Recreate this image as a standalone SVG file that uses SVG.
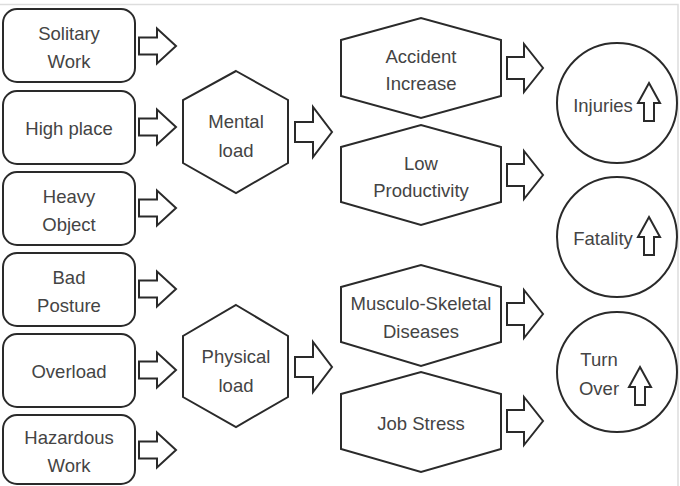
<svg xmlns="http://www.w3.org/2000/svg" xmlns:xlink="http://www.w3.org/1999/xlink" width="680" height="486" viewBox="0 0 680 486">
<style>
.sh{fill:#fff;stroke:#2a2a2a;stroke-width:2;stroke-linejoin:miter}
.ar{fill:#fff;stroke:#2a2a2a;stroke-width:2;stroke-linejoin:miter}
text{font-family:"Liberation Sans",Arial,sans-serif;font-size:18.5px;fill:#444;text-anchor:middle}
</style>
<defs>
<path id="sa" d="M0,-8.5 H18 V-17.5 L37,0 L18,17.5 V8.5 H0 Z"/>
<path id="ma" d="M0,-10 H18 V-25 L37,0 L18,25 V10 H0 Z"/>
<path id="ra" d="M0,-11 H17 V-24 L36,0 L17,24 V11 H0 Z"/>
<path id="ua" d="M0,0 L11,20 H5 V38 H-5 V20 H-11 Z"/>
</defs>
<rect x="0" y="0" width="680" height="486" fill="#fff"/>
<rect x="-2" y="4.5" width="680" height="490" fill="none" stroke="#ddd" stroke-width="1.5"/>

<g id="solitary"><rect class="sh" x="3" y="9" width="132" height="73" rx="14"/><text x="69" y="40">Solitary</text><text x="69" y="68">Work</text></g>
<g id="highplace"><rect class="sh" x="3" y="91" width="132" height="73" rx="14"/><text x="69" y="135">High place</text></g>
<g id="heavy"><rect class="sh" x="3" y="172" width="132" height="73" rx="14"/><text x="69" y="203">Heavy</text><text x="69" y="231">Object</text></g>
<g id="posture"><rect class="sh" x="3" y="253" width="132" height="73" rx="14"/><text x="69" y="284">Bad</text><text x="69" y="312">Posture</text></g>
<g id="overload"><rect class="sh" x="3" y="334" width="132" height="73" rx="14"/><text x="69" y="378">Overload</text></g>
<g id="hazardous"><rect class="sh" x="3" y="415" width="132" height="69" rx="14"/><text x="69" y="444">Hazardous</text><text x="69" y="472">Work</text></g>

<g id="mental"><polygon class="sh" points="236,71 288,100 288,163 236,193 183,163 183,100"/><text x="236" y="128">Mental</text><text x="236" y="157">load</text></g>
<g id="physical"><polygon class="sh" points="236,305 288,336 288,397 236,427 183,397 183,336"/><text x="236" y="363">Physical</text><text x="236" y="392">load</text></g>

<g id="accident"><polygon class="sh" points="341,40 421,18 501,40 501,96 421,118 341,96"/><text x="421" y="63">Accident</text><text x="421" y="90">Increase</text></g>
<g id="lowprod"><polygon class="sh" points="341,147 421,125 501,147 501,202 421,225 341,202"/><text x="421" y="170">Low</text><text x="421" y="197">Productivity</text></g>
<g id="musculo"><polygon class="sh" points="341,287 421,265 501,287 501,342 421,366 341,342"/><text x="421" y="310">Musculo-Skeletal</text><text x="421" y="338">Diseases</text></g>
<g id="jobstress"><polygon class="sh" points="341,394 421,372 501,394 501,449 421,472 341,449"/><text x="421" y="430">Job Stress</text></g>

<g id="injuries"><circle class="sh" cx="617" cy="103" r="60"/><text x="603" y="112">Injuries</text><use href="#ua" class="ar" x="649" y="83"/></g>
<g id="fatality"><circle class="sh" cx="617" cy="237" r="60"/><text x="603" y="245">Fatality</text><use href="#ua" class="ar" x="649" y="217"/></g>
<g id="turnover"><circle class="sh" cx="617" cy="372" r="60"/><text x="599" y="366">Turn</text><text x="599" y="395">Over</text><use href="#ua" class="ar" x="640" y="367"/></g>

<g id="connectors">
<use href="#sa" class="ar" x="139" y="46"/>
<use href="#sa" class="ar" x="139" y="127"/>
<use href="#sa" class="ar" x="139" y="208"/>
<use href="#sa" class="ar" x="139" y="289"/>
<use href="#sa" class="ar" x="139" y="370"/>
<use href="#sa" class="ar" x="139" y="450"/>
<use href="#ma" class="ar" x="295" y="132"/>
<use href="#ma" class="ar" x="295" y="367"/>
<use href="#ra" class="ar" x="507" y="68"/>
<use href="#ra" class="ar" x="507" y="175"/>
<use href="#ra" class="ar" x="507" y="314"/>
<use href="#ra" class="ar" x="507" y="421"/>
</g>
</svg>
